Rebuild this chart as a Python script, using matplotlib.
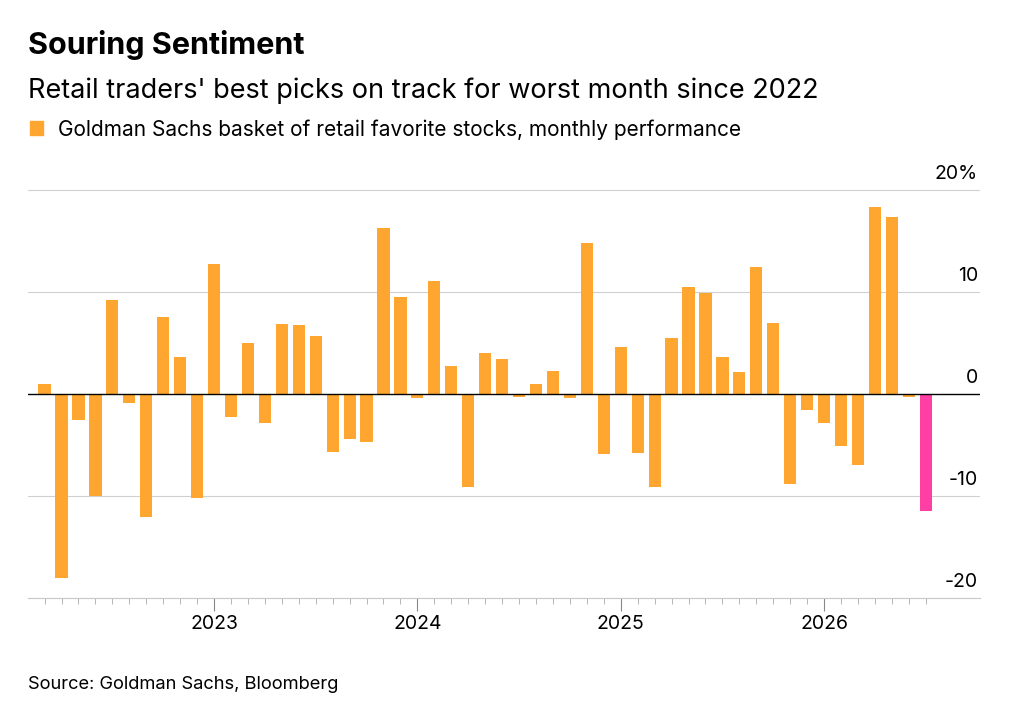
import matplotlib.pyplot as plt
import numpy as np
import pandas as pd

months = pd.date_range("2022-03-01", "2026-07-01", freq="MS")
values = [1.0, -18.0, -2.5, -10.0, 9.2, -0.9, -12.0, 7.6, 3.7, -10.2,
          12.8, -2.2, 5.0, -2.8, 6.9, 6.8, 5.7, -5.7, -4.4, -4.7, 16.3, 9.5,
          -0.4, 11.1, 2.8, -9.1, 4.0, 3.5, -0.3, 1.0, 2.3, -0.4, 14.8, -5.9,
          4.6, -5.8, -9.1, 5.5, 10.5, 9.9, 3.7, 2.2, 12.5, 7.0, -8.8, -1.5,
          -2.8, -5.1, -6.9, 18.4, 17.4, -0.3, -11.5]
year_ticks = ["2023", "2024", "2025", "2026"]
yticks = [-20, -10, 0, 10, 20]
ylabels = ["-20", "-10", "0", "10", "20%"]

orange = "#ffa630"
pink = "#ff3fa4"
plt.rcParams['font.family'] = ['Inter', 'DejaVu Sans']

fig = plt.figure(figsize=(10.24, 7.18), dpi=100)
ax = fig.add_axes([0.027, 0.167, 0.93, 0.575])

x = np.arange(len(values))
colors = [orange] * (len(values) - 1) + [pink]
ax.bar(x, values, width=0.72, color=colors, zorder=3)

ax.set_xlim(-1, len(values) + 2.2)
ax.set_ylim(-20, 20.5)
for y in yticks[1:]:
    ax.axhline(y, color="black" if y == 0 else "#d0d0d0",
               lw=1.0 if y == 0 else 0.8, zorder=4 if y == 0 else 2)
ax.set_yticks([])
for y, lab in zip(yticks, ylabels):
    ax.text(0.998, y + 0.7, lab, transform=ax.get_yaxis_transform(),
            ha="right", va="bottom", fontsize=14)

month_list = list(months)
major = [month_list.index(pd.Timestamp(f"{y}-01-01")) for y in year_ticks]
ax.set_xticks(major)
ax.set_xticklabels(year_ticks)
ax.set_xticks(x, minor=True)
ax.tick_params(axis="x", which="major", length=9, labelsize=14, color="#888888")
ax.tick_params(axis="x", which="minor", length=4, color="#aaaaaa")
for s in ["top", "right", "left"]:
    ax.spines[s].set_visible(False)
ax.spines["bottom"].set_color("#c8c8c8")
ax.spines["bottom"].set_linewidth(0.8)

fig.text(0.027, 0.925, "Souring Sentiment", fontsize=22, fontweight="bold")
fig.text(0.027, 0.863, "Retail traders' best picks on track for worst month since 2022", fontsize=19.5)
fig.patches.append(plt.Rectangle((0.029, 0.812), 0.013, 0.019, color=orange, transform=fig.transFigure))
fig.text(0.057, 0.81, "Goldman Sachs basket of retail favorite stocks, monthly performance", fontsize=15)
fig.text(0.027, 0.04, "Source: Goldman Sachs, Bloomberg", fontsize=13.2)

fig.savefig("out.png")
